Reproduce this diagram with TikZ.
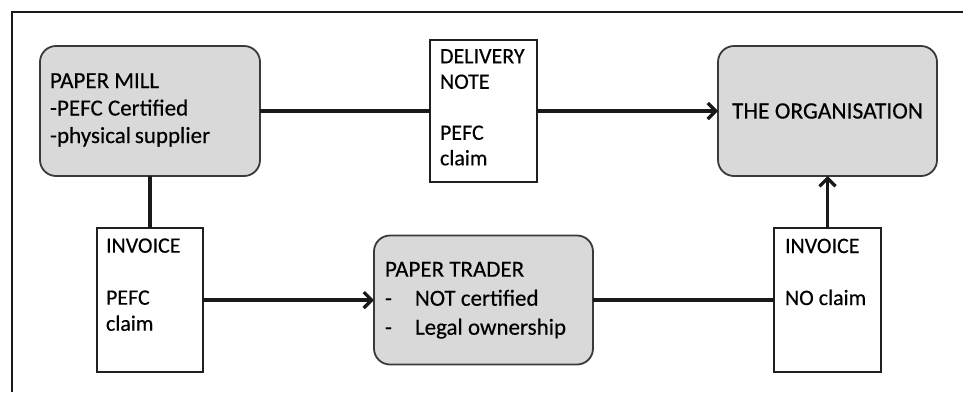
\documentclass[tikz,border=0pt]{standalone}
\usepackage{fontspec}
\setmainfont{Carlito}[UprightFeatures={FakeBold=0.35}]
\usetikzlibrary{arrows.meta}
\definecolor{boxgray}{HTML}{D9D9D9}
\definecolor{edgegray}{HTML}{3A3A3A}
\definecolor{docedge}{HTML}{202020}
\newcommand{\bxt}[4]{\parbox[c][#1][t]{#2}{\rule{0pt}{#3}#4}}
\begin{document}
\begin{tikzpicture}[x=1pt,y=-1pt,
  party/.style={draw=edgegray, line width=1.8pt, fill=boxgray, rounded corners=16pt, inner ysep=0pt, outer sep=0pt},
  paper/.style={draw=docedge, line width=2pt, fill=white, inner ysep=0pt, outer sep=0pt},
  link/.style={line width=3.2pt, draw=black!90},
  flow/.style={link, -{Straight Barb[length=8pt,width=16pt]}},
  frame/.style={line width=1.6pt, draw=black!90}
]
\useasboundingbox (0,0) rectangle (963,392);
\draw[frame] (12,392) -- (12,12) -- (963,12);

\node[party, inner xsep=10pt, font=\fontsize{23}{27.5}\selectfont] (mill) at (150,111)
  {\bxt{130pt}{200pt}{42pt}{PAPER MILL\\-PEFC Certified\\-physical\,supplier}};
\node[paper, inner xsep=10pt, font=\fontsize{22}{25.5}\selectfont] (dn) at (483.5,111)
  {\bxt{142pt}{87pt}{23.3pt}{DELIVERY\\NOTE\\[25.5pt]PEFC\\claim}};
\node[party, minimum width=219pt, minimum height=130pt, inner sep=0pt, font=\fontsize{23.5}{26}\selectfont] (org) at (827.5,111)
  {THE ORGANISATION};
\node[paper, inner xsep=9pt, font=\fontsize{22}{26}\selectfont] (inv1) at (150,300)
  {\bxt{144pt}{88pt}{24.7pt}{INVOICE\\[26pt]PEFC\\claim}};
\node[party, inner xsep=11pt, font=\fontsize{23}{29}\selectfont] (trader) at (483.5,300)
  {\bxt{129pt}{197pt}{41.2pt}{PAPER TRADER\\\makebox[30pt][l]{-}NOT certified\\\makebox[30pt][l]{-}Legal ownership}};
\node[paper, inner xsep=11pt, font=\fontsize{22}{26}\selectfont] (inv2) at (827.5,300)
  {\bxt{144pt}{85pt}{25pt}{INVOICE\\[26pt]NO claim}};

\draw[link] (mill.east) -- (dn.west);
\draw[flow] (dn.east) -- (org.west);
\draw[link] (mill.south) -- (inv1.north);
\draw[flow] (inv1.east) -- (trader.west);
\draw[link] (trader.east) -- (inv2.west);
\draw[flow] (inv2.north) -- (org.south);
\end{tikzpicture}
\end{document}
